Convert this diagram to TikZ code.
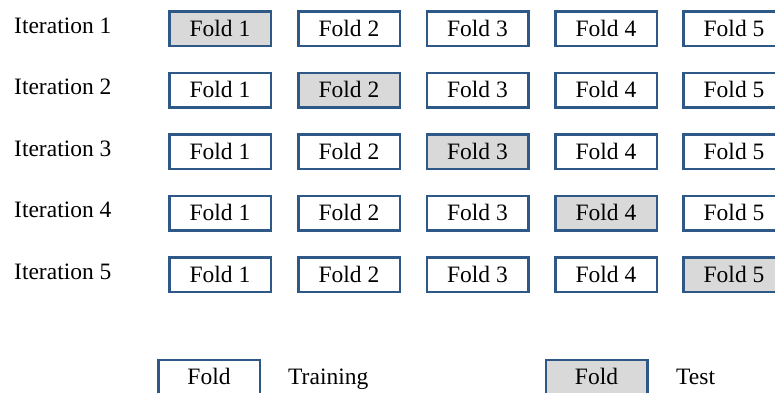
\documentclass[tikz,border=0pt]{standalone}
\usepackage{fontspec}
\setmainfont{Liberation Serif}
\definecolor{foldborder}{RGB}{46,88,134}
\definecolor{testfill}{RGB}{217,217,217}
\tikzset{
  foldbox/.style={draw=foldborder, line width=2.5pt, fill=white,
    minimum width=101.5pt, minimum height=34.5pt, inner sep=0pt,
    text height=15.5pt, text depth=0pt},
  testbox/.style={foldbox, fill=testfill},
  rowlabel/.style={anchor=base west, inner sep=0pt},
  legendtext/.style={anchor=base west, inner sep=0pt}
}
\begin{document}
\begin{tikzpicture}[x=1pt, y=-1pt, font=\fontsize{23.5}{28}\selectfont]
\useasboundingbox (0,0) rectangle (775,392);
% one row per iteration; the shaded fold is the test fold
\foreach \r/\yc in {1/28.5, 2/90, 3/151.5, 4/213, 5/274.5} {
  \node[rowlabel] (it\r) at (14,\yc+4.5) {Iteration \r};
  \foreach \c/\xc in {1/220, 2/349, 3/477.5, 4/606, 5/734} {
    \ifnum\c=\r
      \node[testbox] (f\r\c) at (\xc,\yc) {Fold \c};
    \else
      \node[foldbox] (f\r\c) at (\xc,\yc) {Fold \c};
    \fi
  }
}
% legend
\node[foldbox] (legtrain) at (209,377) {Fold};
\node[legendtext] (legtraintext) at (288,384.75) {Training};
\node[testbox] (legtest) at (596.5,377) {Fold};
\node[legendtext] (legtesttext) at (676,384.75) {Test};
\end{tikzpicture}
\end{document}
